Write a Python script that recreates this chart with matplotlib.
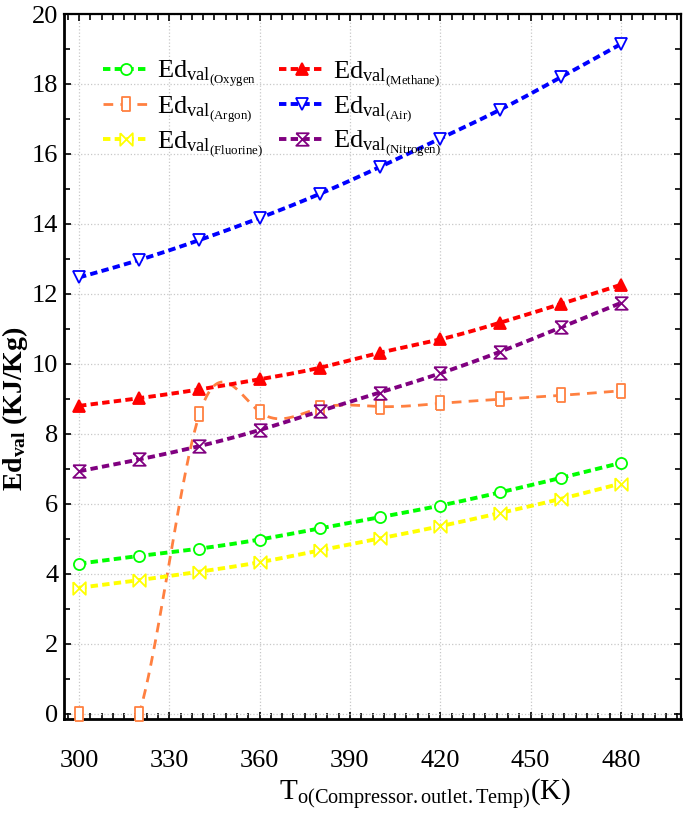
import numpy as np
import matplotlib
matplotlib.use("Agg")
import matplotlib.pyplot as plt
from matplotlib.path import Path
from matplotlib.lines import Line2D
from matplotlib.ticker import MultipleLocator, AutoMinorLocator

plt.rcParams['font.family'] = ['Liberation Serif', 'DejaVu Serif']
plt.rcParams['mathtext.fontset'] = 'custom'
plt.rcParams['mathtext.rm'] = 'Liberation Serif'
plt.rcParams['mathtext.it'] = 'Liberation Serif:italic'
plt.rcParams['mathtext.bf'] = 'Liberation Serif:bold'

# data
temp = [300, 320, 340, 360, 380, 400, 420, 440, 460, 480]
oxygen = [4.29, 4.51, 4.72, 4.98, 5.30, 5.62, 5.95, 6.33, 6.74, 7.17]
argon = [0.0, 0.0, 8.56, 8.63, 8.74, 8.78, 8.87, 8.99, 9.10, 9.23]
fluorine = [3.60, 3.82, 4.06, 4.33, 4.67, 5.01, 5.36, 5.74, 6.14, 6.58]
methane = [8.80, 9.02, 9.27, 9.56, 9.89, 10.32, 10.70, 11.18, 11.71, 12.26]
air = [12.47, 12.97, 13.54, 14.17, 14.86, 15.63, 16.44, 17.27, 18.19, 19.14]
nitrogen = [6.93, 7.27, 7.65, 8.11, 8.65, 9.18, 9.73, 10.35, 11.04, 11.74]

labels = [r'Ed$_{\mathrm{val}_{\mathrm{(Oxygen}}}$', r'Ed$_{\mathrm{val}_{\mathrm{(Argon)}}}$',
          r'Ed$_{\mathrm{val}_{\mathrm{(Fluorine)}}}$', r'Ed$_{\mathrm{val}_{\mathrm{(Methane)}}}$',
          r'Ed$_{\mathrm{val}_{\mathrm{(Air)}}}$', r'Ed$_{\mathrm{val}_{\mathrm{(Nitrogen)}}}$']


def spline(x, y, n=400):
    # natural cubic spline, just for drawing the connecting curve
    x = np.asarray(x, float)
    y = np.asarray(y, float)
    h = np.diff(x)
    m = len(x)
    A = np.zeros((m, m))
    b = np.zeros(m)
    A[0, 0] = A[-1, -1] = 1
    for i in range(1, m - 1):
        A[i, i - 1] = h[i - 1]
        A[i, i] = 2 * (h[i - 1] + h[i])
        A[i, i + 1] = h[i]
        b[i] = 6 * ((y[i + 1] - y[i]) / h[i] - (y[i] - y[i - 1]) / h[i - 1])
    M = np.linalg.solve(A, b)
    xs = np.linspace(x[0], x[-1], n)
    k = np.clip(np.searchsorted(x, xs) - 1, 0, m - 2)
    hh = x[k + 1] - x[k]
    t0 = x[k + 1] - xs
    t1 = xs - x[k]
    ys = (M[k] * t0**3 + M[k + 1] * t1**3) / (6 * hh) \
        + (y[k] / hh - M[k] * hh / 6) * t0 + (y[k + 1] / hh - M[k + 1] * hh / 6) * t1
    return xs, ys


hourglass = Path([(-1, 1), (1, 1), (-1, -1), (1, -1), (-1, 1)])
bowtie = Path([(-1, 1), (-1, -1), (1, 1), (1, -1), (-1, 1)])
tallbox = Path([(-0.6, -1), (0.6, -1), (0.6, 1), (-0.6, 1), (-0.6, -1)])

styles = [
    dict(color='#00ff00', marker='o', ms=8, fill=False, lw=2.8, dash=(1.9, 1.1)),
    dict(color='#ff8040', marker=tallbox, ms=10, fill=False, lw=2.0, dash=(3.5, 2.6)),
    dict(color='#ffff00', marker=bowtie, ms=9, fill=False, lw=2.8, dash=(1.9, 1.1)),
    dict(color='#ff0000', marker='^', ms=9, fill=True, lw=2.8, dash=(1.9, 1.1)),
    dict(color='#0000ff', marker='v', ms=9, fill=False, lw=2.8, dash=(1.9, 1.1)),
    dict(color='#800080', marker=hourglass, ms=9, fill=False, lw=2.8, dash=(1.9, 1.1)),
]
series = [oxygen, argon, fluorine, methane, air, nitrogen]

fig = plt.figure(figsize=(6.94, 8.15), dpi=100)
ax = fig.add_axes([0.0922, 0.1178, 0.8891, 0.865])

handles = []
for ys, st, lab in zip(series, styles, labels):
    sx, sy = spline(temp, ys)
    ax.plot(sx, sy, color=st['color'], lw=st['lw'], ls=(0, st['dash']), zorder=3)
    mfc = st['color'] if st['fill'] else 'white'
    ax.plot(temp, ys, ls='none', marker=st['marker'], ms=st['ms'], mfc=mfc,
            mec=st['color'], mew=1.3, zorder=4, clip_on=False)
    handles.append(Line2D([], [], color=st['color'], lw=st['lw'], ls=(0, st['dash']),
                          marker=st['marker'], ms=st['ms'], mfc=mfc,
                          mec=st['color'], mew=1.3))

ax.set_xlim(295, 500)
ax.set_ylim(-0.15, 20)
ax.xaxis.set_major_locator(MultipleLocator(30))
ax.xaxis.set_minor_locator(AutoMinorLocator(8))
ax.yaxis.set_major_locator(MultipleLocator(2))
ax.yaxis.set_minor_locator(AutoMinorLocator(2))
ax.set_xticks(range(300, 481, 30))
ax.grid(True, which='major', color='#c8c8c8', ls=':', lw=0.9)
ax.tick_params(which='both', direction='in', top=True, right=True, width=1.2)
ax.tick_params(which='major', length=5)
ax.tick_params(which='minor', length=4)
ax.tick_params(axis='x', which='major', labelsize=19, pad=22)
ax.tick_params(axis='y', which='major', labelsize=19, pad=4)
for s in ['left', 'bottom']:
    ax.spines[s].set_linewidth(2.0)
for s in ['top', 'right']:
    ax.spines[s].set_linewidth(1.6)

ax.set_xlabel(r'T$_{\mathrm{o(Compressor.outlet.Temp)}}$(K)', fontsize=21)
ax.xaxis.set_label_coords(0.585, -0.082)
ax.set_ylabel(r'Ed$_{\mathbf{val}}$ (KJ/Kg)', fontsize=20, fontweight='bold')
ax.yaxis.set_label_coords(-0.055, 0.44)

ax.legend(handles, labels, ncol=2, loc='upper left', bbox_to_anchor=(0.025, 0.97),
          frameon=False, fontsize=19, handlelength=1.75, columnspacing=0.6,
          labelspacing=0.2, handletextpad=0.3)

fig.savefig('out.png', dpi=100)
